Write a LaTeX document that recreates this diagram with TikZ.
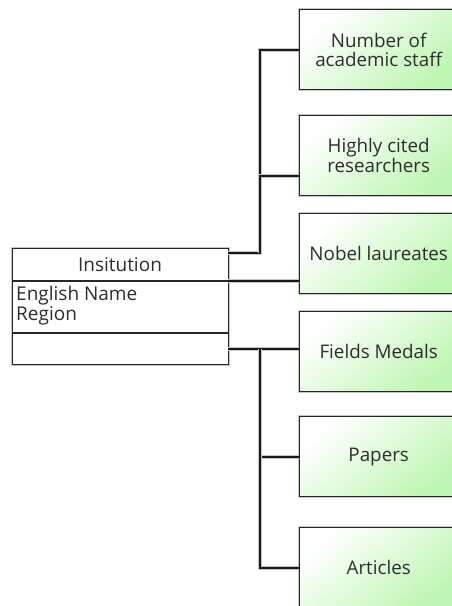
\documentclass[tikz,border=0pt]{standalone}
\usepackage{fontspec}
\setmainfont{Open Sans}
\usetikzlibrary{calc}
\definecolor{boxgreen}{RGB}{190,246,178}
\definecolor{txt}{RGB}{45,45,45}
\tikzset{
  metric/.style={draw=black!85, line width=1.4pt,
    preaction={draw=black!22, line width=3.4pt},
    top color=white, bottom color=boxgreen, shading angle=40,
    minimum width=158pt, minimum height=80pt, inner sep=0pt,
    anchor=north west, align=center, text=txt,
    font=\fontsize{18.8}{18.5}\selectfont},
  wire/.style={line width=2pt, black!90,
    preaction={draw=black!22, line width=4.2pt}},
  classbox/.style={draw=black!85, line width=1.4pt, fill=white,
    preaction={draw=black!22, line width=3.4pt},
    minimum width=216pt, minimum height=116pt, inner sep=0pt,
    anchor=north west},
  label/.style={text=txt, inner sep=0pt, font=\fontsize{19}{18.5}\selectfont}
}
\begin{document}
\begin{tikzpicture}[x=1pt,y=-1pt]
\useasboundingbox (0,0) rectangle (452,606);
\clip (0,0) rectangle (452,606);

% class box
\node[classbox] (inst) at (12,248) {};
\draw[line width=1.4pt, black!85] (12,281) coordinate (d1l) -- (228,281) coordinate (d1r);
\draw[line width=1.4pt, black!85] (12,333) coordinate (d2l) -- (228,333) coordinate (d2r);
\node[label] (title) at (120,265) {Insitution};
\node[label, anchor=north west, align=left] (attrs) at (16,286) {English Name\\Region};

% metric boxes
\node[metric] (b1) at (299,9)   {Number of\\academic staff};
\node[metric] (b2) at (299,115) {Highly cited\\researchers};
\node[metric] (b3) at (299,213) {Nobel laureates};
\node[metric] (b4) at (299,311) {Fields Medals};
\node[metric] (b5) at (299,416) {Papers};
\node[metric] (b6) at (299,527) {Articles};

% connector ports and junctions
\coordinate (pa) at (228,253);
\coordinate (ja) at (260,253);
\coordinate (pb) at (228,281);
\coordinate (pc) at (228,349);
\coordinate (jc) at (260,349);

\draw[wire] (pa) -- (ja) |- (b1.west);
\draw[wire] (ja) |- ([yshift=-20pt]b2.west);
\draw[wire] (pb) -- (pb -| b3.west);
\draw[wire] (pc) -- (pc -| b4.west);
\draw[wire] (jc) |- (b5.west);
\draw[wire] (jc) |- (b6.west);
\end{tikzpicture}
\end{document}
